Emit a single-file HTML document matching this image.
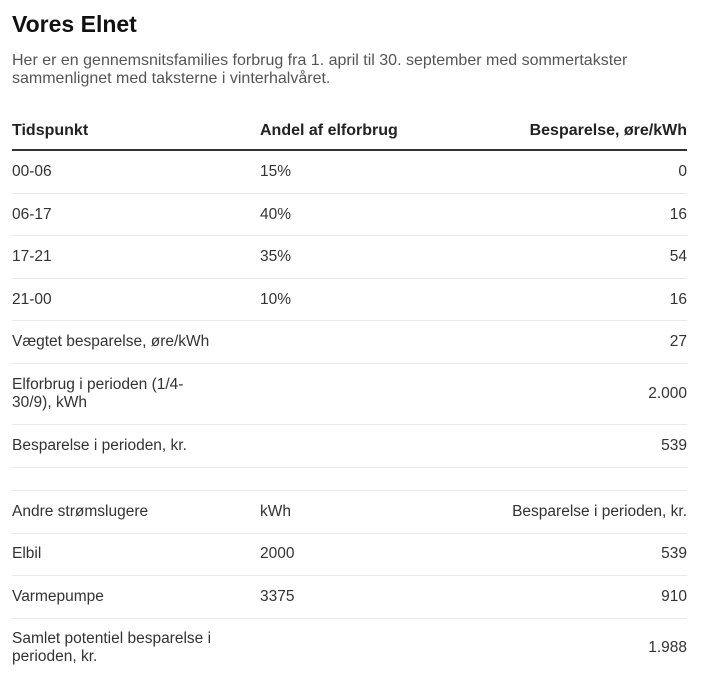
<!DOCTYPE html>
<html><head><meta charset="utf-8"><style>
body{margin:0;width:718px;height:673px;background:#fff;font-family:"Liberation Sans",Arial,sans-serif;color:#333;position:relative;overflow:hidden}
.a{position:absolute;white-space:nowrap;font-size:15.5px;line-height:18px}
.r{text-align:right;right:31px}
.l{position:absolute;left:12px;width:675px;height:1px;background:#e8e8e8}
h1{position:absolute;left:12px;top:11px;margin:0;font-size:23px;font-weight:bold;color:#111}
.b{font-weight:bold;color:#222;font-size:16px}
.s{font-size:16px;color:#555}
</style></head><body>
<h1>Vores Elnet</h1>
<div class="a s" style="left:12px;top:52px">Her er en gennemsnitsfamilies forbrug fra 1. april til 30. september med sommertakster</div>
<div class="a s" style="left:12px;top:70px">sammenlignet med taksterne i vinterhalvåret.</div>

<div class="a b" style="left:12px;top:122px">Tidspunkt</div>
<div class="a b" style="left:260px;top:122px">Andel af elforbrug</div>
<div class="a b r" style="top:122px">Besparelse, øre/kWh</div>
<div class="l" style="top:149px;height:2px;background:#333"></div>

<div class="a" style="left:12px;top:163px">00-06</div><div class="a" style="left:260px;top:163px">15%</div><div class="a r" style="top:163px">0</div>
<div class="l" style="top:193px"></div>
<div class="a" style="left:12px;top:206px">06-17</div><div class="a" style="left:260px;top:206px">40%</div><div class="a r" style="top:206px">16</div>
<div class="l" style="top:235px"></div>
<div class="a" style="left:12px;top:248px">17-21</div><div class="a" style="left:260px;top:248px">35%</div><div class="a r" style="top:248px">54</div>
<div class="l" style="top:278px"></div>
<div class="a" style="left:12px;top:291px">21-00</div><div class="a" style="left:260px;top:291px">10%</div><div class="a r" style="top:291px">16</div>
<div class="l" style="top:320px"></div>
<div class="a" style="left:12px;top:333px">Vægtet besparelse, øre/kWh</div><div class="a r" style="top:333px">27</div>
<div class="l" style="top:363px"></div>
<div class="a" style="left:12px;top:376px">Elforbrug i perioden (1/4-</div>
<div class="a" style="left:12px;top:394px">30/9), kWh</div><div class="a r" style="top:385px">2.000</div>
<div class="l" style="top:424px"></div>
<div class="a" style="left:12px;top:437px">Besparelse i perioden, kr.</div><div class="a r" style="top:437px">539</div>
<div class="l" style="top:467px"></div>
<div class="l" style="top:490px"></div>
<div class="a" style="left:12px;top:503px">Andre strømslugere</div><div class="a" style="left:260px;top:503px">kWh</div><div class="a r" style="top:503px">Besparelse i perioden, kr.</div>
<div class="l" style="top:533px"></div>
<div class="a" style="left:12px;top:545px">Elbil</div><div class="a" style="left:260px;top:545px">2000</div><div class="a r" style="top:545px">539</div>
<div class="l" style="top:575px"></div>
<div class="a" style="left:12px;top:588px">Varmepumpe</div><div class="a" style="left:260px;top:588px">3375</div><div class="a r" style="top:588px">910</div>
<div class="l" style="top:618px"></div>
<div class="a" style="left:12px;top:630px">Samlet potentiel besparelse i</div>
<div class="a" style="left:12px;top:648px">perioden, kr.</div><div class="a r" style="top:639px">1.988</div>
</body></html>
